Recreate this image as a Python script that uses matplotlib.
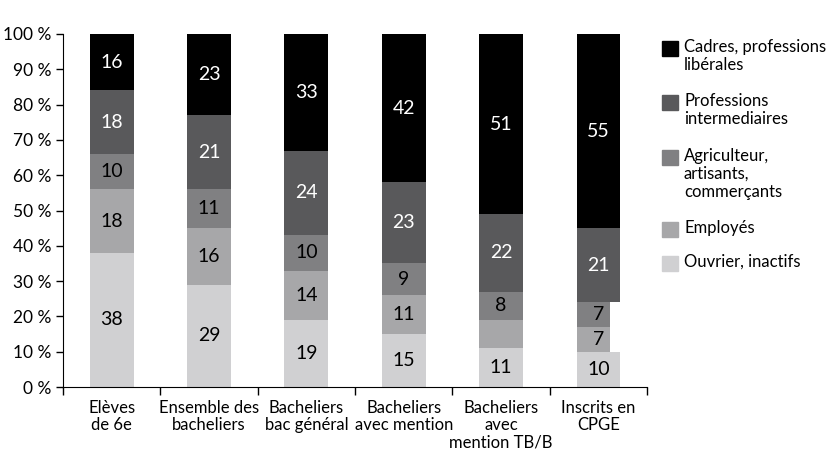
import matplotlib.pyplot as plt
from matplotlib.patches import Rectangle

plt.rcParams['font.family'] = ['Lato', 'DejaVu Sans']

categories = ["Elèves\nde 6e", "Ensemble des\nbacheliers", "Bacheliers\nbac général",
              "Bacheliers\navec mention", "Bacheliers\navec\nmention TB/B", "Inscrits en\nCPGE"]
series = ["Ouvrier, inactifs", "Employés", "Agriculteur,\nartisants,\ncommerçants",
          "Professions\nintermediaires", "Cadres, professions\nlibérales"]
ouvrier = [38, 29, 19, 15, 11, 10]
employes = [18, 16, 14, 11, 8, 7]
agriculteur = [10, 11, 10, 9, 8, 7]
intermediaires = [18, 21, 24, 23, 22, 21]
cadres = [16, 23, 33, 42, 51, 55]
yticks = [0, 10, 20, 30, 40, 50, 60, 70, 80, 90, 100]

values = [ouvrier, employes, agriculteur, intermediaires, cadres]
colors = ["#d0d0d2", "#a7a7a9", "#808082", "#59595b", "#000000"]
text_colors = ["black", "black", "black", "white", "white"]
# (category, series) whose label is not shown / narrower segments
hidden = {(4, 1)}
narrow = {(5, 1), (5, 2)}

fig = plt.figure(figsize=(8.34, 4.63), dpi=100)
ax = fig.add_axes([0.0755, 0.164, 0.7005, 0.7626])

w = 0.45
bottom = [0] * len(categories)
for s, vals in enumerate(values):
    for i, v in enumerate(vals):
        if (i, s) in narrow:
            ax.bar(i - w / 2, v, width=0.34, bottom=bottom[i], color=colors[s], align='edge')
        else:
            ax.bar(i, v, width=w, bottom=bottom[i], color=colors[s])
        if (i, s) not in hidden:
            ax.text(i, bottom[i] + v / 2, str(v), ha='center', va='center',
                    color=text_colors[s], fontsize=14)
        bottom[i] += v

ax.set_xlim(-0.5, len(categories) - 0.5)
ax.set_ylim(0, 100)
ax.set_yticks(yticks)
ax.set_yticklabels([f"{t} %" for t in yticks], fontsize=12.5)
ax.tick_params(axis='y', length=5, width=1, pad=3)
ax.set_xticks([i - 0.5 for i in range(len(categories) + 1)])
ax.set_xticklabels([])
ax.set_xticks(range(len(categories)), minor=True)
ax.set_xticklabels(categories, minor=True, fontsize=12, linespacing=1.1)
ax.tick_params(axis='x', which='major', length=6, width=1)
ax.tick_params(axis='x', which='minor', length=0, pad=9)
for side in ['top', 'right']:
    ax.spines[side].set_visible(False)

# legend drawn by hand so squares align with first text line
W, H = 834, 463
leg_y = [41, 95, 150, 222, 256]
for s, y in zip(range(len(series) - 1, -1, -1), leg_y):
    fig.patches.append(Rectangle((662 / W, 1 - (y + 15) / H), 16 / W, 15 / H,
                                 transform=fig.transFigure, color=colors[s]))
    fig.text(684 / W, 1 - (y - 2) / H, series[s], fontsize=12, va='top', ha='left',
             linespacing=1.15)

fig.savefig("out.png", dpi=100)
